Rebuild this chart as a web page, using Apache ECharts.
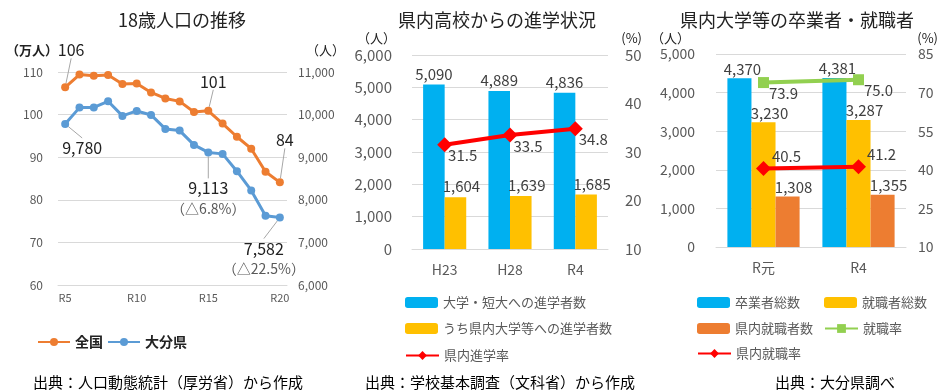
<!DOCTYPE html>
<html><head><meta charset="utf-8">
<script src="https://cdn.jsdelivr.net/npm/echarts@6/dist/echarts.min.js"></script>
<style>html,body{margin:0;padding:0;background:#fff}#c{width:942px;height:390px}</style>
</head><body><div id="c"></div><script>
// ---- data: 18歳人口の推移 ----
const years = ['R5','R6','R7','R8','R9','R10','R11','R12','R13','R14','R15','R16','R17','R18','R19','R20'];
const national = [106.4,109.4,109.1,109.3,107.2,107.3,105.2,103.8,103.1,100.6,100.9,97.9,94.8,92.0,86.6,84.1];
const oita = [9780,10164,10168,10313,9969,10086,9992,9664,9625,9289,9113,9078,8672,8219,7625,7582];
const nationalLabelIdx = [0,10,15];
const oitaLabelIdx = [0,10,15];
const popLeftTicks = {min:60,max:110,interval:10};
const popRightTicks = {min:6000,max:11000,interval:1000};

// ---- data: 県内高校からの進学状況 ----
const hsCats = ['H23','H28','R4'];
const univEntrants = [5090,4889,4836];
const inPrefEntrants = [1604,1639,1685];
const inPrefRate = [31.5,33.5,34.8];

// ---- data: 県内大学等の卒業者・就職者 ----
const gradCats = ['R元','R4'];
const graduates = [4370,4381];
const employed = [3230,3287];
const inPrefEmployed = [1308,1355];
const employmentRate = [73.9,75.0];
const inPrefEmploymentRate = [40.5,41.2];

const FONT = '"Noto Sans CJK JP","Noto Sans",sans-serif';
const fmt = v => Number(v).toLocaleString('en-US');
const GRID = '#D9D9D9', AX = '#595959', TXT = '#404040';

const chart = echarts.init(document.getElementById('c'));

// label layout offsets for the left chart (label centre relative to point)
const natOff = {0:[6,-37],10:[5,-29],15:[5,-42]};
const oitaOff = {0:[17,24],10:[0,46],15:[-16,41]};
const base = oita[0];

function yAxisCommon(extra){
  return Object.assign({
    type:'value',
    axisLine:{show:false}, axisTick:{show:false},
    splitLine:{show:true,lineStyle:{color:GRID,width:1}},
    axisLabel:{color:AX,fontFamily:FONT}
  }, extra);
}
function xAxisCommon(extra){
  return Object.assign({
    type:'category',
    axisTick:{show:false},
    axisLine:{show:true,lineStyle:{color:GRID,width:1}},
    axisLabel:{color:AX,fontFamily:FONT}
  }, extra);
}
function text(x,y,t,size,opts){
  return Object.assign({type:'text',x:x,y:y,style:Object.assign({text:t,font:size+'px '+FONT,fill:'#222',textAlign:'center',textVerticalAlign:'middle'},opts||{})});
}
function legendItem(name,left,top,extra){
  return Object.assign({data:[name],left:left,top:top,orient:'horizontal',itemWidth:33,itemHeight:11,itemGap:6,
    textStyle:{fontFamily:FONT,fontSize:13,color:AX},padding:0}, extra||{});
}

const option = {
  animation:false,
  textStyle:{fontFamily:FONT},
  grid:[
    {left:58,top:72,width:229,height:213},
    {left:412,top:55,width:196,height:194},
    {left:716,top:54,width:190,height:193}
  ],
  xAxis:[
    xAxisCommon({gridIndex:0,data:years,boundaryGap:true,axisLabel:{color:AX,fontFamily:FONT,fontSize:11,interval:4,margin:7}}),
    xAxisCommon({gridIndex:1,data:hsCats,axisLabel:{color:AX,fontFamily:FONT,fontSize:14,margin:14}}),
    xAxisCommon({gridIndex:2,data:gradCats,axisLabel:{color:AX,fontFamily:FONT,fontSize:14,margin:14}})
  ],
  yAxis:[
    yAxisCommon(Object.assign({gridIndex:0,position:'left',axisLabel:{color:AX,fontFamily:FONT,fontSize:12,margin:15}},popLeftTicks)),
    yAxisCommon(Object.assign({gridIndex:0,position:'right',splitLine:{show:false},axisLabel:{color:AX,fontFamily:FONT,fontSize:12,margin:11,formatter:fmt}},popRightTicks)),
    yAxisCommon({gridIndex:1,position:'left',min:0,max:6000,interval:1000,axisLabel:{color:AX,fontFamily:FONT,fontSize:15,margin:20,formatter:fmt}}),
    yAxisCommon({gridIndex:1,position:'right',min:10,max:50,interval:10,splitLine:{show:false},axisLabel:{color:AX,fontFamily:FONT,fontSize:15,margin:17}}),
    yAxisCommon({gridIndex:2,position:'left',min:0,max:5000,interval:1000,axisLabel:{color:AX,fontFamily:FONT,fontSize:14,margin:21,formatter:fmt}}),
    yAxisCommon({gridIndex:2,position:'right',min:10,max:85,alignTicks:true,splitLine:{show:false},axisLabel:{color:AX,fontFamily:FONT,fontSize:14,margin:12}})
  ],
  legend:[
    {data:['全国','大分県'],left:37,top:335,itemWidth:32,itemHeight:10,itemGap:4,padding:0,
      textStyle:{fontFamily:FONT,fontSize:14,fontWeight:'bold',color:'#222'}},
    legendItem('大学・短大への進学者数',405,296),
    legendItem('うち県内大学等への進学者数',405,322),
    legendItem('県内進学率',405,349),
    legendItem('卒業者総数',697,296),
    legendItem('就職者総数',824,296),
    legendItem('県内就職者数',697,322),
    legendItem('就職率',824,322),
    legendItem('県内就職率',697,347)
  ],
  series:[
    {
      name:'全国',type:'line',xAxisIndex:0,yAxisIndex:0,color:'#ED7D31',
      lineStyle:{width:3},symbol:'circle',symbolSize:8,
      data:national.map((v,i)=>nationalLabelIdx.includes(i)?{value:v,label:{show:true}}:v),
      label:{show:false,position:'inside',fontFamily:FONT,fontSize:16,color:'#222',
        formatter:p=>String(Math.round(p.value))},
      labelLine:{show:true,lineStyle:{color:'#A6A6A6',width:1}},
      labelLayout:p=>{const o=natOff[p.dataIndex]||[0,0];return {dx:o[0],dy:o[1]};}
    },
    {
      name:'大分県',type:'line',xAxisIndex:0,yAxisIndex:1,color:'#5B9BD5',
      lineStyle:{width:3},symbol:'circle',symbolSize:8,
      data:oita.map((v,i)=>oitaLabelIdx.includes(i)?{value:v,label:{show:true}}:v),
      label:{show:false,position:'inside',fontFamily:FONT,fontSize:16,color:'#222',lineHeight:20,
        formatter:p=>{
          if(p.dataIndex===0) return '{a|'+fmt(p.value)+'}';
          const pct=((base-p.value)/base*100).toFixed(1);
          return '{a|'+fmt(p.value)+'}\n{b|（△'+pct+'%）}';
        },
        rich:{a:{fontFamily:FONT,fontSize:16,color:'#222',lineHeight:20},b:{fontFamily:FONT,fontSize:14,color:'#595959',lineHeight:20}}},
      labelLine:{show:true,lineStyle:{color:'#A6A6A6',width:1}},
      labelLayout:p=>{const o=oitaOff[p.dataIndex]||[0,0];return {dx:o[0],dy:o[1]};}
    },
    {
      name:'大学・短大への進学者数',type:'bar',xAxisIndex:1,yAxisIndex:2,color:'#00B0F0',
      barGap:'0%',barCategoryGap:'34%',data:univEntrants,
      label:{show:true,position:'top',distance:3,fontFamily:FONT,fontSize:15,color:TXT,formatter:p=>fmt(p.value)}
    },
    {
      name:'うち県内大学等への進学者数',type:'bar',xAxisIndex:1,yAxisIndex:2,color:'#FFC000',
      barGap:'0%',barCategoryGap:'34%',data:inPrefEntrants,
      label:{show:true,position:'top',distance:3,offset:[6,0],fontFamily:FONT,fontSize:15,color:TXT,formatter:p=>fmt(p.value)}
    },
    {
      name:'県内進学率',type:'line',xAxisIndex:1,yAxisIndex:3,color:'#FF0000',
      lineStyle:{width:4},symbol:'diamond',symbolSize:15,data:inPrefRate,
      label:{show:true,position:'inside',offset:[18,11],fontFamily:FONT,fontSize:15,color:TXT,formatter:p=>p.value.toFixed(1)}
    },
    {
      name:'卒業者総数',type:'bar',xAxisIndex:2,yAxisIndex:4,color:'#00B0F0',
      barGap:'0%',barCategoryGap:'24%',data:graduates,
      label:{show:true,position:'top',distance:2,offset:[3,0],fontFamily:FONT,fontSize:15,color:TXT,formatter:p=>fmt(p.value)}
    },
    {
      name:'就職者総数',type:'bar',xAxisIndex:2,yAxisIndex:4,color:'#FFC000',
      barGap:'0%',barCategoryGap:'24%',data:employed,
      label:{show:true,position:'top',distance:2,offset:[6,0],fontFamily:FONT,fontSize:15,color:TXT,formatter:p=>fmt(p.value)}
    },
    {
      name:'県内就職者数',type:'bar',xAxisIndex:2,yAxisIndex:4,color:'#ED7D31',
      barGap:'0%',barCategoryGap:'24%',data:inPrefEmployed,
      label:{show:true,position:'top',distance:2,offset:[6,0],fontFamily:FONT,fontSize:15,color:TXT,formatter:p=>fmt(p.value)}
    },
    {
      name:'就職率',type:'line',xAxisIndex:2,yAxisIndex:5,color:'#92D050',
      lineStyle:{width:4},symbol:'rect',symbolSize:11,data:employmentRate,
      label:{show:true,position:'inside',offset:[20,11],fontFamily:FONT,fontSize:15,color:TXT,formatter:p=>p.value.toFixed(1)}
    },
    {
      name:'県内就職率',type:'line',xAxisIndex:2,yAxisIndex:5,color:'#FF0000',
      lineStyle:{width:4},symbol:'diamond',symbolSize:15,data:inPrefEmploymentRate,
      label:{show:true,position:'inside',offset:[23,-12],fontFamily:FONT,fontSize:15,color:TXT,formatter:p=>p.value.toFixed(1)}
    }
  ],
  graphic:[
    text(182,20,'18歳人口の推移',18),
    text(497,20,'県内高校からの進学状況',18),
    text(797,20,'県内大学等の卒業者・就職者',18),
    text(58,50,'（万人）',13,{textAlign:'right',font:'bold 13px '+FONT}),
    text(306,50,'（人）',13,{textAlign:'left'}),
    text(396,38,'（人）',13,{textAlign:'right'}),
    text(642,38,'(%)',13,{textAlign:'right'}),
    text(690,38,'（人）',13,{textAlign:'right'}),
    text(938,38,'(%)',13,{textAlign:'right'}),
    text(33,382,'出典：人口動態統計（厚労省）から作成',15,{textAlign:'left',fill:'#000'}),
    text(365,382,'出典：学校基本調査（文科省）から作成',15,{textAlign:'left',fill:'#000'}),
    text(775,382,'出典：大分県調べ',15,{textAlign:'left',fill:'#000'})
  ]
};
chart.setOption(option);
</script></body></html>
